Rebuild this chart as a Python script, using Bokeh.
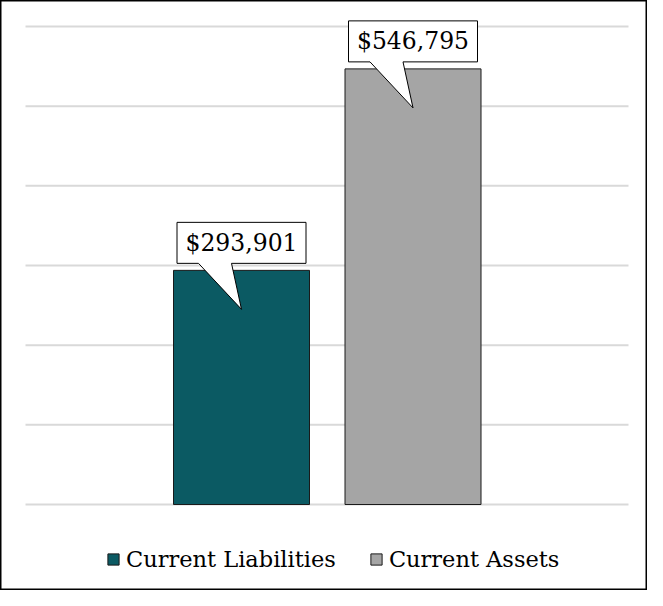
from bokeh.plotting import figure
from bokeh.models import Range1d
from bokeh.core.properties import value
from bokeh.embed import file_html
from bokeh.resources import INLINE

# ---- data ----
series = ["Current Liabilities", "Current Assets"]
amounts = [293901, 546795]
labels = ["$293,901", "$546,795"]
colors = ["#0B5A63", "#A5A5A5"]
grid_ticks = [0, 100000, 200000, 300000, 400000, 500000, 600000]

# ---- layout constants (canvas pixels) ----
W, H = 647, 590
base_px, top_px = 504, 26          # canvas y of 0 and of the top grid value
ymax = grid_ticks[-1]
upp = ymax / (base_px - top_px)    # data units per pixel (y)
y_start = -(H - base_px) * upp
y_end = base_px * upp

pxu = 171.5                        # pixels per x unit
xpos = [1, 2]
x_start = xpos[0] - 241 / pxu
x_end = x_start + W / pxu
grid_x0 = x_start + 25 / pxu
grid_x1 = x_start + 628 / pxu
bar_w = 136 / pxu

FONT = "DejaVu Serif"

p = figure(width=W, height=H, output_backend="svg", toolbar_location=None,
           x_range=Range1d(x_start, x_end), y_range=Range1d(y_start, y_end),
           x_axis_location=None, y_axis_location=None, min_border=0,
           background_fill_color="white", border_fill_color="white")
p.grid.visible = False
p.outline_line_color = "black"
p.outline_line_width = 2

# gridlines
p.segment(x0=[grid_x0] * len(grid_ticks), x1=[grid_x1] * len(grid_ticks),
          y0=grid_ticks, y1=grid_ticks, line_color="#d9d9d9", line_width=2)

# bars
for xi, amt, name, col in zip(xpos, amounts, series, colors):
    p.vbar(x=[xi], top=[amt], bottom=0, width=bar_w, fill_color=col,
           line_color="#1a1a1a", line_width=1, legend_label=name)

# callouts
dx = [-64.5, 64.5, 64.5, -10, 0, -43, -64.5]
dy = [48, 48, 7, 7, -39, 7, 7]
xs = [[xi + d / pxu for d in dx] for xi in xpos]
ys = [[amt + d * upp for d in dy] for amt in amounts]
p.patches(xs=xs, ys=ys, fill_color="white", line_color="black", line_width=1)
p.text(x=xpos, y=amounts, text=labels, y_offset=-27.5, text_align="center",
       text_baseline="middle", text_font=value(FONT), text_font_size="23.5px",
       text_color="black")

lg = p.legend[0]
lg.orientation = "horizontal"
lg.location = (106, 18)
lg.glyph_width = 14
lg.glyph_height = 14
lg.label_standoff = 6
lg.spacing = 33
lg.padding = 0
lg.margin = 0
lg.border_line_alpha = 0
lg.background_fill_alpha = 0
lg.label_text_font = FONT
lg.label_text_font_size = "22.5px"
lg.label_text_color = "black"

open("out.html", "w").write(file_html(p, INLINE))
